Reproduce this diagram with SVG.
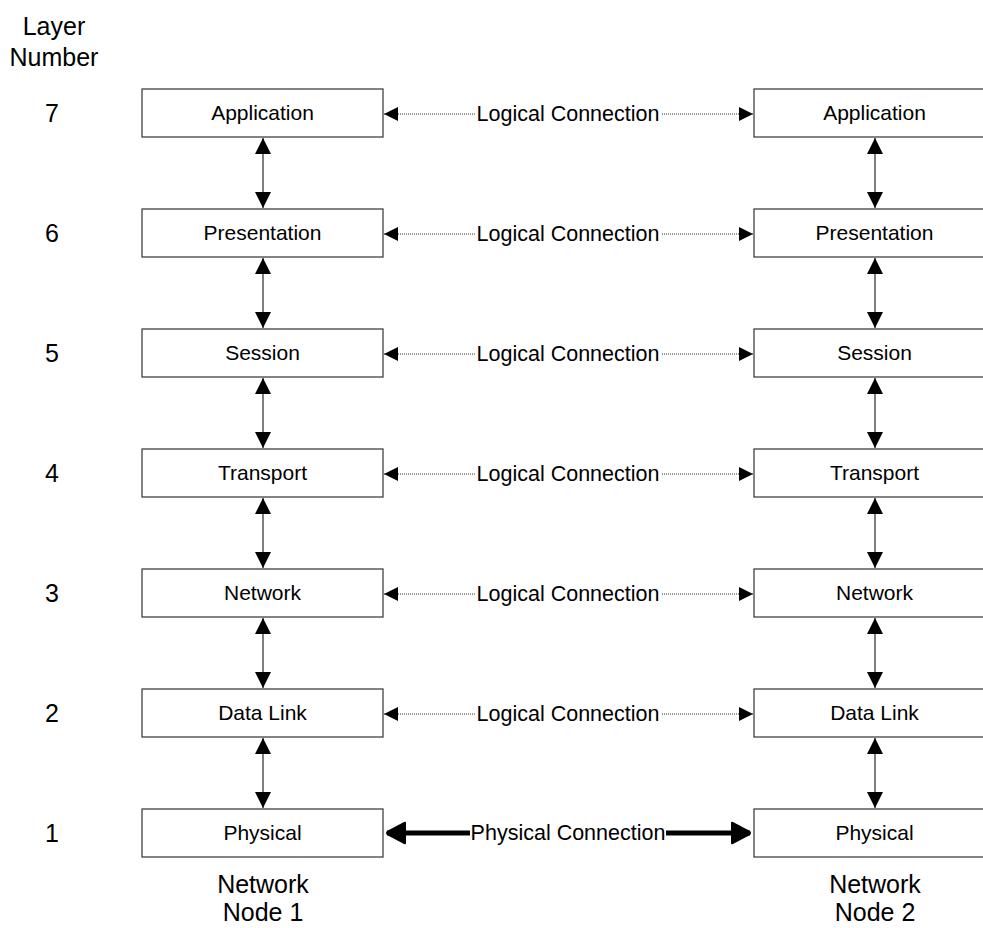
<svg xmlns="http://www.w3.org/2000/svg" width="983" height="928" viewBox="0 0 983 928">
<style>
.box{fill:#fff;stroke:#333;stroke-width:1.2}
.bt{font-family:"Liberation Sans",Arial,sans-serif;font-size:21px;fill:#000;text-anchor:middle}
.lbl{font-family:"Liberation Sans",Arial,sans-serif;font-size:25px;fill:#000;text-anchor:middle}
.ct{font-family:"Liberation Sans",Arial,sans-serif;font-size:21.5px;fill:#000;text-anchor:middle}
.vline{stroke:#555;stroke-width:1.5;fill:none;marker-start:url(#av);marker-end:url(#av)}
.lline{stroke:#777;stroke-width:1.5;stroke-dasharray:1 1;fill:none;marker-end:url(#al)}
.pline{stroke:#000;stroke-width:5;fill:none;marker-end:url(#ap)}
</style>
<defs>
<marker id="av" markerUnits="userSpaceOnUse" markerWidth="17" markerHeight="16" refX="16" refY="8" orient="auto-start-reverse" viewBox="0 0 17 16">
<path d="M0,0 L16,8 L0,16 z" fill="#000"/>
</marker>
<marker id="al" markerUnits="userSpaceOnUse" markerWidth="15" markerHeight="14" refX="14" refY="7" orient="auto" viewBox="0 0 15 14">
<path d="M0,0 L14,7 L0,14 z" fill="#000"/>
</marker>
<marker id="ap" markerUnits="userSpaceOnUse" markerWidth="22" markerHeight="24" refX="20" refY="12" orient="auto" viewBox="0 0 22 24">
<path d="M1,2 Q1,0 3,1 L20,10 Q22,12 20,14 L3,23 Q1,24 1,22 z" fill="#000"/>
</marker>
</defs>

<g id="header">
<text class="lbl" x="54" y="35">Layer</text>
<text class="lbl" x="54" y="66">Number</text>
</g>

<g id="layer-numbers">
<text class="lbl" x="52" y="122">7</text>
<text class="lbl" x="52" y="242">6</text>
<text class="lbl" x="52" y="362">5</text>
<text class="lbl" x="52" y="482">4</text>
<text class="lbl" x="52" y="602">3</text>
<text class="lbl" x="52" y="722">2</text>
<text class="lbl" x="52" y="842">1</text>
</g>

<g id="n1-application"><rect class="box" x="142" y="89" width="241" height="48"/><text class="bt" x="262.5" y="120">Application</text></g>
<g id="n1-presentation"><rect class="box" x="142" y="209" width="241" height="48"/><text class="bt" x="262.5" y="240">Presentation</text></g>
<g id="n1-session"><rect class="box" x="142" y="329" width="241" height="48"/><text class="bt" x="262.5" y="360">Session</text></g>
<g id="n1-transport"><rect class="box" x="142" y="449" width="241" height="48"/><text class="bt" x="262.5" y="480">Transport</text></g>
<g id="n1-network"><rect class="box" x="142" y="569" width="241" height="48"/><text class="bt" x="262.5" y="600">Network</text></g>
<g id="n1-datalink"><rect class="box" x="142" y="689" width="241" height="48"/><text class="bt" x="262.5" y="720">Data Link</text></g>
<g id="n1-physical"><rect class="box" x="142" y="809" width="241" height="48"/><text class="bt" x="262.5" y="840">Physical</text></g>

<g id="n2-application"><rect class="box" x="754" y="89" width="241" height="48"/><text class="bt" x="874.5" y="120">Application</text></g>
<g id="n2-presentation"><rect class="box" x="754" y="209" width="241" height="48"/><text class="bt" x="874.5" y="240">Presentation</text></g>
<g id="n2-session"><rect class="box" x="754" y="329" width="241" height="48"/><text class="bt" x="874.5" y="360">Session</text></g>
<g id="n2-transport"><rect class="box" x="754" y="449" width="241" height="48"/><text class="bt" x="874.5" y="480">Transport</text></g>
<g id="n2-network"><rect class="box" x="754" y="569" width="241" height="48"/><text class="bt" x="874.5" y="600">Network</text></g>
<g id="n2-datalink"><rect class="box" x="754" y="689" width="241" height="48"/><text class="bt" x="874.5" y="720">Data Link</text></g>
<g id="n2-physical"><rect class="box" x="754" y="809" width="241" height="48"/><text class="bt" x="874.5" y="840">Physical</text></g>

<g id="footer">
<text class="lbl" x="263" y="893">Network</text>
<text class="lbl" x="263" y="921">Node 1</text>
<text class="lbl" x="875" y="893">Network</text>
<text class="lbl" x="875" y="921">Node 2</text>
</g>

<g id="connectors">
<path class="vline" d="M263,138 V208"/>
<path class="vline" d="M263,258 V328"/>
<path class="vline" d="M263,378 V448"/>
<path class="vline" d="M263,498 V568"/>
<path class="vline" d="M263,618 V688"/>
<path class="vline" d="M263,738 V808"/>
<path class="vline" d="M875,138 V208"/>
<path class="vline" d="M875,258 V328"/>
<path class="vline" d="M875,378 V448"/>
<path class="vline" d="M875,498 V568"/>
<path class="vline" d="M875,618 V688"/>
<path class="vline" d="M875,738 V808"/>

<path class="lline" d="M475,114 H384"/><path class="lline" d="M662,114 H753"/>
<path class="lline" d="M475,234 H384"/><path class="lline" d="M662,234 H753"/>
<path class="lline" d="M475,354 H384"/><path class="lline" d="M662,354 H753"/>
<path class="lline" d="M475,474 H384"/><path class="lline" d="M662,474 H753"/>
<path class="lline" d="M475,594 H384"/><path class="lline" d="M662,594 H753"/>
<path class="lline" d="M475,714 H384"/><path class="lline" d="M662,714 H753"/>
<text class="ct" x="568" y="121">Logical Connection</text>
<text class="ct" x="568" y="241">Logical Connection</text>
<text class="ct" x="568" y="361">Logical Connection</text>
<text class="ct" x="568" y="481">Logical Connection</text>
<text class="ct" x="568" y="601">Logical Connection</text>
<text class="ct" x="568" y="721">Logical Connection</text>

<path class="pline" d="M470,833 H387"/><path class="pline" d="M666,833 H750"/>
<text class="ct" x="568" y="840">Physical Connection</text>
</g>
</svg>
